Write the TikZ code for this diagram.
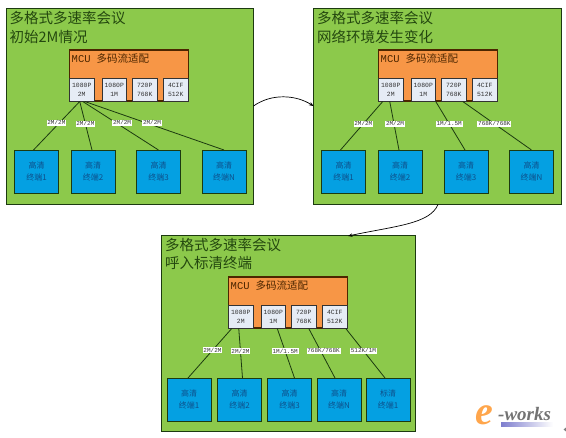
\documentclass[tikz,border=0pt]{standalone}
\usepackage{fontspec}
\setmainfont{Liberation Mono}
\newfontfamily\cjk{Noto Sans CJK SC}[Scale=1]
\newfontfamily\logof{Liberation Serif}[Scale=1]
\usetikzlibrary{calc,arrows.meta}
\definecolor{pgreen}{HTML}{8CC94B}
\definecolor{porange}{HTML}{F79646}
\definecolor{psub}{HTML}{E6ECF5}
\definecolor{pblue}{HTML}{04A0E2}
\definecolor{pline}{HTML}{1C3A10}
\definecolor{ptitle}{HTML}{24480F}
\definecolor{pterm}{HTML}{0E4F8A}
\tikzset{
  boxbase/.style={rectangle,inner sep=0pt,outer sep=0pt,anchor=north west},
  panel/.style={boxbase,draw=pline,line width=1pt,fill=pgreen,minimum width=#1,minimum height=195.5pt},
  mcu/.style={boxbase,draw=black!70!orange,line width=1.1pt,fill=porange,minimum width=119pt,minimum height=51pt},
  subbox/.style={boxbase,draw=black!80,line width=.7pt,fill=psub,minimum width=24.5pt,minimum height=23.5pt,align=center,font=\fontsize{6.4}{9}\selectfont,text=black!80},
  term/.style={boxbase,draw=pline,line width=.8pt,fill=pblue,minimum width=44pt,minimum height=43pt,align=center,font=\cjk\fontsize{8}{12}\selectfont,text=pterm},
  ptext/.style={inner sep=0pt,anchor=north west,align=left,font=\cjk\fontsize{14.5}{18.5}\selectfont,text=ptitle},
  mtext/.style={inner sep=0pt,anchor=west,text=black!70!orange,font=\fontsize{10.5}{12}\selectfont},
  link/.style={draw=pline,line width=.8pt},
  rate/.style={fill=white,inner sep=.8pt,font=\fontsize{6}{7}\selectfont,text=black!80},
  flow/.style={draw=black,line width=.7pt,-{Stealth[length=4.5pt,width=3.5pt]}}
}
\newcommand{\cjkt}[1]{{\cjk #1}}
\begin{document}
\begin{tikzpicture}[x=1pt,y=-1pt]
\useasboundingbox (0,0) rectangle (566,438);

% ---- panel 1
\node[panel=247pt] (pa) at (6.5,9) {};
\node[ptext] (ta) at (9.5,11.5) {多格式多速率会议\\初始2M情况};
\node[mcu] (ma) at (69.5,50) {};
\node[mtext] (mta) at (71.5,59) {MCU\hspace{6pt}\cjkt{多码流适配}};
\node[subbox] (a1) at (69.5,78) {1080P\\2M};
\node[subbox] (a2) at (102,78) {1080P\\1M};
\node[subbox] (a3) at (132.5,78) {720P\\768K};
\node[subbox] (a4) at (163.5,78) {4CIF\\512K};
\node[term] (at1) at (14.5,150) {高清\\终端1};
\node[term] (at2) at (71,150) {高清\\终端2};
\node[term] (at3) at (136.5,150) {高清\\终端3};
\node[term] (at4) at (202,150) {高清\\终端N};
\draw[link] ([xshift=-2pt]a1.south) -- node[rate,pos=.44,xshift=-3pt] (la1) {2M/2M} ([xshift=-3pt]at1.north);
\draw[link] ([xshift=-2pt]a1.south) -- node[rate,pos=.46] (la2) {2M/2M} ([xshift=-1pt]at2.north);
\draw[link] ([xshift=1pt]a1.south) -- node[rate,pos=.44,xshift=6pt] (la3) {2M/2M} (at3.north);
\draw[link] ([xshift=3pt]a1.south) -- node[rate,pos=.44,xshift=6pt] (la4) {2M/2M} (at4.north);

% ---- panel 2
\node[panel=248pt] (pb) at (313.5,9) {};
\node[ptext] (tb) at (317,11.5) {多格式多速率会议\\网络环境发生变化};
\node[mcu] (mb) at (378.5,50) {};
\node[mtext] (mtb) at (380.5,59) {MCU\hspace{6pt}\cjkt{多码流适配}};
\node[subbox] (b1) at (378.5,78) {1080P\\2M};
\node[subbox] (b2) at (411,78) {1080P\\1M};
\node[subbox] (b3) at (441.5,78) {720P\\768K};
\node[subbox] (b4) at (472.5,78) {4CIF\\512K};
\node[term] (bt1) at (321.5,150) {高清\\终端1};
\node[term] (bt2) at (378,150) {高清\\终端2};
\node[term] (bt3) at (444,150) {高清\\终端3};
\node[term] (bt4) at (509.5,150) {高清\\终端N};
\draw[link] ([xshift=-8pt]b1.south) -- node[rate,pos=.46] (lb1) {2M/2M} ([xshift=-3pt]bt1.north);
\draw[link] ([xshift=-1pt]b1.south) -- node[rate,pos=.46,xshift=1pt] (lb2) {2M/2M} ([xshift=-1pt]bt2.north);
\draw[link] ([xshift=-18pt]b3.south) -- node[rate,pos=.46] (lb3) {1M/1.5M} ([xshift=-1pt]bt3.north);
\draw[link] ([xshift=9pt]b3.south) -- node[rate,pos=.46] (lb4) {768K/768K} (bt4.north);

% ---- panel 3
\node[panel=254pt] (pc) at (161.5,236) {};
\node[ptext] (tc) at (165,238) {多格式多速率会议\\呼入标清终端};
\node[mcu] (mc) at (228.5,277) {};
\node[mtext] (mtc) at (230.5,286) {MCU\hspace{6pt}\cjkt{多码流适配}};
\node[subbox] (c1) at (228.5,305) {1080P\\2M};
\node[subbox] (c2) at (261,305) {1080P\\1M};
\node[subbox] (c3) at (291.5,305) {720P\\768K};
\node[subbox] (c4) at (322.5,305) {4CIF\\512K};
\node[term] (ct1) at (167,378) {高清\\终端1};
\node[term] (ct2) at (217.5,378) {高清\\终端2};
\node[term] (ct3) at (267.5,378) {高清\\终端3};
\node[term] (ct4) at (317,378) {高清\\终端N};
\node[term] (ct5) at (366,378) {标清\\终端1};
\draw[link] ([xshift=-9pt]c1.south) -- node[rate,pos=.44] (lc1) {2M/2M} ([xshift=-1pt]ct1.north);
\draw[link] ([xshift=-2pt]c1.south) -- node[rate,pos=.46] (lc2) {2M/2M} ([xshift=3pt]ct2.north);
\draw[link] ([xshift=4pt]c2.south) -- node[rate,pos=.46] (lc3) {1M/1.5M} ([xshift=5pt]ct3.north);
\draw[link] ([xshift=5pt]c3.south) -- node[rate,pos=.45,xshift=3pt] (lc4) {768K/768K} ([xshift=-4pt]ct4.north);
\draw[link] ([xshift=11pt]c4.south) -- node[rate,pos=.45] (lc5) {512K/1M} ([xshift=-3pt]ct5.north);

% ---- transitions
\draw[flow] (pa.east |- 0,106) .. controls (272,93) and (296,95) .. (pb.west |- 0,106);
\draw[flow] (438,204.5) .. controls (430,224) and (395,226) .. (348,236);

% ---- watermark
\node[inner sep=0pt,anchor=center,text=orange!70,font=\logof\itshape\bfseries\fontsize{40}{40}\selectfont] (le) at (484,415) {e};
\node[inner sep=0pt,anchor=west,text=black!55,font=\logof\itshape\bfseries\fontsize{19}{20}\selectfont] (lw) at (498,414.5) {-works};
\shade[left color=blue!45!gray!70,right color=white] (501,423) rectangle (553,427);
\fill[gray] (563.5,429.5) -- (566,427.5) -- (566,431.5) -- cycle;
\end{tikzpicture}
\end{document}
